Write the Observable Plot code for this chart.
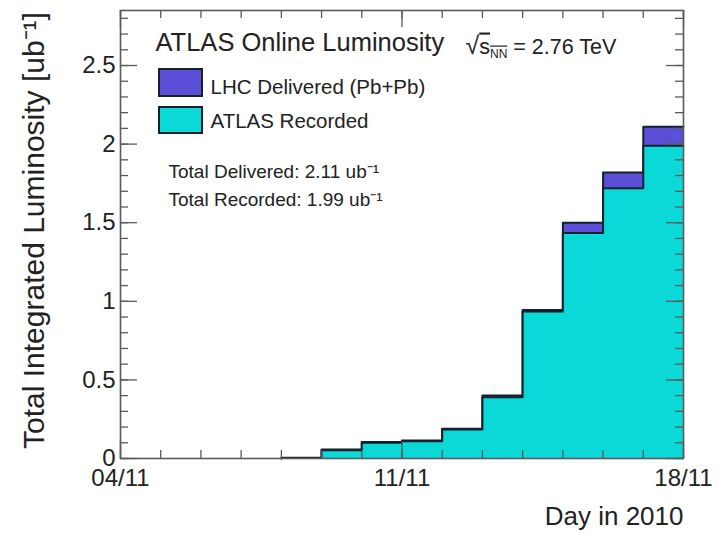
<!DOCTYPE html>
<html>
<head>
<meta charset="utf-8">
<script src="https://cdn.jsdelivr.net/npm/d3@7"></script>
<script src="https://cdn.jsdelivr.net/npm/@observablehq/plot@0.6"></script>
<style>
  body { margin: 0; background: #fff; }
  #chart svg { display: block; }
</style>
</head>
<body>
<div id="chart"></div>
<script>
// Daily bins (start of each day, Nov 2010) of cumulative integrated luminosity
const binStart = ["2010-11-08", "2010-11-09", "2010-11-10", "2010-11-11", "2010-11-12",
                  "2010-11-13", "2010-11-14", "2010-11-15", "2010-11-16", "2010-11-17"];
// LHC delivered (Pb+Pb), ub^-1
const delivered = [0.004, 0.057, 0.105, 0.115, 0.19, 0.40, 0.945, 1.50, 1.82, 2.11];
// ATLAS recorded, ub^-1
const recorded  = [0.003, 0.052, 0.10, 0.11, 0.185, 0.39, 0.935, 1.435, 1.72, 1.99];

const xDomain = ["2010-11-04", "2010-11-18"];
const xLabelDays = ["2010-11-04", "2010-11-11", "2010-11-18"];
const yLabels = [0, 0.5, 1, 1.5, 2, 2.5];

const seriesNames = ["LHC Delivered (Pb+Pb)", "ATLAS Recorded"];
const totalLines = ["Total Delivered: 2.11 ub\u207B\u00B9", "Total Recorded: 1.99 ub\u207B\u00B9"];
const titleText = "ATLAS Online Luminosity";
const energyText = "\u221AsNN = 2.76 TeV";
const yTitle = "Total Integrated Luminosity [ub\u207B\u00B9]";
const xTitle = "Day in 2010";

const colDelivered = "#5a4fd6";
const colRecorded = "#0bd9d7";
const colLine = "#14202a";
const colAxis = "#5a5a5a";

const W = 726, H = 533;
const mL = 120, mR = 43, mT = 10, mB = 75;
const pw = W - mL - mR, ph = H - mT - mB;

const toDate = s => new Date(s);
const bins = binStart.map((s, i) => ({
  start: toDate(s),
  end: d3.utcDay.offset(toDate(s), 1),
  delivered: delivered[i],
  recorded: recorded[i]
}));

// step outline of a histogram: up from zero at the first edge, across each bin top
function outline(key) {
  const last = bins[bins.length - 1];
  return [{x: bins[0].start, y: 0},
          ...bins.map(b => ({x: b.start, y: b[key]})),
          {x: last.end, y: last[key]}];
}

const allDays = d3.utcDay.range(toDate(xDomain[0]), d3.utcDay.offset(toDate(xDomain[1]), 1));
const majorDays = xLabelDays.map(toDate);
const yMinor = d3.range(0, 29).map(k => k / 10);

const font = "'Liberation Sans', Arial, Helvetica, sans-serif";

const plot = Plot.plot({
  width: W, height: H,
  marginLeft: mL, marginRight: mR, marginTop: mT, marginBottom: mB,
  x: {type: "utc", domain: xDomain.map(toDate)},
  y: {domain: [0, 2.85]},
  style: {fontFamily: font, fontSize: "24px", color: "#222", background: "#fff"},
  marks: [
    // histograms
    Plot.rectY(bins, {x1: "start", x2: "end", y: "delivered", fill: colDelivered, shapeRendering: "crispEdges"}),
    Plot.line(outline("delivered"), {x: "x", y: "y", curve: "step-after", stroke: colLine, strokeWidth: 2}),
    Plot.rectY(bins, {x1: "start", x2: "end", y: "recorded", fill: colRecorded, shapeRendering: "crispEdges"}),
    Plot.line(outline("recorded"), {x: "x", y: "y", curve: "step-after", stroke: colLine, strokeWidth: 2}),

    // inward ticks on all four sides
    Plot.tickX(allDays, {x: d => d, stroke: colAxis, strokeWidth: 1.3, insetTop: ph - 8}),
    Plot.tickX(majorDays, {x: d => d, stroke: colAxis, strokeWidth: 1.3, insetTop: ph - 17}),
    Plot.tickX(allDays, {x: d => d, stroke: colAxis, strokeWidth: 1.3, insetBottom: ph - 8}),
    Plot.tickX(majorDays, {x: d => d, stroke: colAxis, strokeWidth: 1.3, insetBottom: ph - 17}),
    Plot.tickY(yMinor, {y: d => d, stroke: colAxis, strokeWidth: 1.3, insetRight: pw - 8}),
    Plot.tickY(yLabels, {y: d => d, stroke: colAxis, strokeWidth: 1.3, insetRight: pw - 17}),
    Plot.tickY(yMinor, {y: d => d, stroke: colAxis, strokeWidth: 1.3, insetLeft: pw - 8}),
    Plot.tickY(yLabels, {y: d => d, stroke: colAxis, strokeWidth: 1.3, insetLeft: pw - 17}),
    Plot.frame({stroke: colAxis, strokeWidth: 1.6}),

    // axes
    Plot.axisX({ticks: majorDays, tickSize: 0, tickPadding: 10, tickFormat: d3.utcFormat("%d/%m"), label: null, fontSize: 24, fill: "#222"}),
    Plot.axisY({ticks: yLabels, tickSize: 0, tickPadding: 5, tickFormat: d => `${d}`, label: null, fontSize: 24, fill: "#222"}),
    Plot.text([yTitle], {text: d => d, frameAnchor: "left", rotate: -90, dx: -86, dy: -4, textAnchor: "middle", lineAnchor: "middle", fontSize: 30, fill: "#222"}),
    Plot.text([xTitle], {text: d => d, frameAnchor: "bottom-right", dy: 66, textAnchor: "end", lineAnchor: "bottom", fontSize: 26, fill: "#222"}),

    // legend
    Plot.text([titleText], {text: d => d, frameAnchor: "top-left", dx: 35, dy: 40, textAnchor: "start", lineAnchor: "bottom", fontSize: 25.5, fill: "#222"}),
    Plot.text([energyText], {text: d => d, frameAnchor: "top-left", dx: 345, dy: 43, textAnchor: "start", lineAnchor: "bottom", fontSize: 21.5, fill: "#222"}),
    Plot.rect([seriesNames[0]], {fill: colDelivered, stroke: colLine, strokeWidth: 2,
      insetLeft: 39, insetRight: pw - 82, insetTop: 59, insetBottom: ph - 86}),
    Plot.rect([seriesNames[1]], {fill: colRecorded, stroke: colLine, strokeWidth: 2,
      insetLeft: 39, insetRight: pw - 82, insetTop: 97, insetBottom: ph - 123}),
    Plot.text([seriesNames[0]], {text: d => d, frameAnchor: "top-left", dx: 90, dy: 83, textAnchor: "start", lineAnchor: "bottom", fontSize: 20.5, fill: "#222"}),
    Plot.text([seriesNames[1]], {text: d => d, frameAnchor: "top-left", dx: 90, dy: 117, textAnchor: "start", lineAnchor: "bottom", fontSize: 20.5, fill: "#222"}),
    Plot.text([totalLines[0]], {text: d => d, frameAnchor: "top-left", dx: 48, dy: 167, textAnchor: "start", lineAnchor: "bottom", fontSize: 19, fill: "#222"}),
    Plot.text([totalLines[1]], {text: d => d, frameAnchor: "top-left", dx: 48, dy: 195, textAnchor: "start", lineAnchor: "bottom", fontSize: 19, fill: "#222"})
  ]
});

// typeset the collision energy: radical, overlined s with subscript NN
d3.select(plot).selectAll("text")
  .filter(function() { return this.textContent === energyText; })
  .each(function() {
    const t = d3.select(this);
    t.text(null);
    t.append("tspan").attr("font-size", 25).text("\u221A");
    t.append("tspan").style("text-decoration", "overline").text("s");
    t.append("tspan").attr("font-size", 12).attr("dy", 4).style("text-decoration", "overline").text("NN");
    t.append("tspan").attr("dy", -4).text(" = 2.76 TeV");
  });

document.getElementById("chart").appendChild(plot);
</script>
</body>
</html>
